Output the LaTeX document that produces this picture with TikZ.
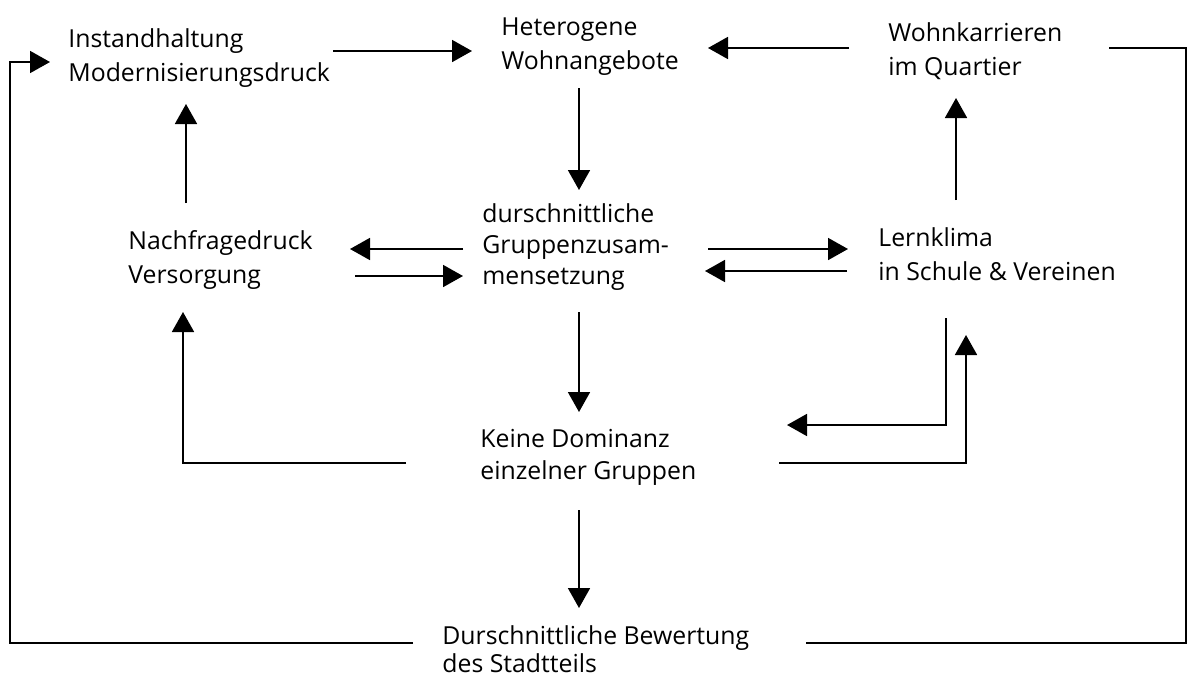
\documentclass[tikz,border=0pt]{standalone}
\usepackage{fontspec}
\setmainfont{Open Sans}
\usetikzlibrary{arrows.meta}

\begin{document}
\begin{tikzpicture}[x=0.5pt, y=-0.5pt,
    lbl/.style={anchor=base west, align=left, inner sep=0pt, font=\fontsize{12.4}{17}\selectfont},
    arr/.style={line width=0.9pt, -{Triangle[length=10pt,width=11pt]}},
    ln/.style={line width=0.9pt}]
    \useasboundingbox (0,0) rectangle (1193,675);
    % Begriffe (Anker: Grundlinie der letzten Zeile)
    \node[lbl] (inst) at (68,81) {Instandhaltung\\Modernisierungsdruck};
    \node[lbl] (het) at (501,69) {Heterogene\\Wohnangebote};
    \node[lbl] (wk) at (888,75) {Wohnkarrieren\\im Quartier};
    \node[lbl] (nv) at (128,283) {Nachfragedruck\\Versorgung};
    \node[lbl, font=\fontsize{12.4}{15.5}\selectfont] (dur) at (482,284) {durschnittliche\\Gruppenzusam-\\mensetzung};
    \node[lbl] (lk) at (878,280) {Lernklima\\in Schule \& Vereinen};
    \node[lbl, font=\fontsize{12.4}{16}\selectfont] (kd) at (480,479) {Keine Dominanz\\einzelner Gruppen};
    \node[lbl, font=\fontsize{12.4}{14}\selectfont] (bw) at (442,672) {Durschnittliche Bewertung\\des Stadtteils};
    % Enden der Pfeile
    \coordinate (instR) at (333,51);
    \coordinate (hetL) at (472,51);
    \coordinate (wkL) at (849,48);
    \coordinate (hetR) at (708,48);
    \coordinate (hetB) at (579,88);
    \coordinate (durT) at (579,190);
    \coordinate (nvT) at (186,203);
    \coordinate (instB) at (186,104);
    \coordinate (lkT) at (956,200);
    \coordinate (wkB) at (956,98);
    \coordinate (durL1) at (463,249);
    \coordinate (nvR1) at (350,249);
    \coordinate (nvR2) at (355,276);
    \coordinate (durL2) at (463,276);
    \coordinate (durR1) at (708,249);
    \coordinate (lkL1) at (848,249);
    \coordinate (lkL2) at (847,271);
    \coordinate (durR2) at (705,271);
    \coordinate (durB) at (579,312);
    \coordinate (kdT) at (579,412);
    \coordinate (kdL) at (406,463);
    \coordinate (nvB) at (183,312);
    \coordinate (lkB1) at (946,318);
    \coordinate (kdR1) at (787,425);
    \coordinate (kdR2) at (779,463);
    \coordinate (lkB2) at (966,335);
    \coordinate (kdB) at (579,510);
    \coordinate (bwT) at (579,608);
    \coordinate (bwL) at (413,643);
    \coordinate (instL) at (50,62);
    \coordinate (wkR) at (1109,48);
    \coordinate (bwR) at (806,643);
    % Pfeile
    \draw[arr] (instR) -- (hetL);
    \draw[arr] (wkL) -- (hetR);
    \draw[arr] (hetB) -- (durT);
    \draw[arr] (nvT) -- (instB);
    \draw[arr] (lkT) -- (wkB);
    \draw[arr] (durL1) -- (nvR1);
    \draw[arr] (nvR2) -- (durL2);
    \draw[arr] (durR1) -- (lkL1);
    \draw[arr] (lkL2) -- (durR2);
    \draw[arr] (durB) -- (kdT);
    \draw[arr] (kdL) -| (nvB);
    \draw[arr] (lkB1) |- (kdR1);
    \draw[arr] (kdR2) -| (lkB2);
    \draw[arr] (kdB) -- (bwT);
    \draw[arr] (bwL) -| ([xshift=-20pt]instL) -- (instL);
    \draw[ln] (wkR) -- ++(77,0) |- (bwR);
\end{tikzpicture}
\end{document}
